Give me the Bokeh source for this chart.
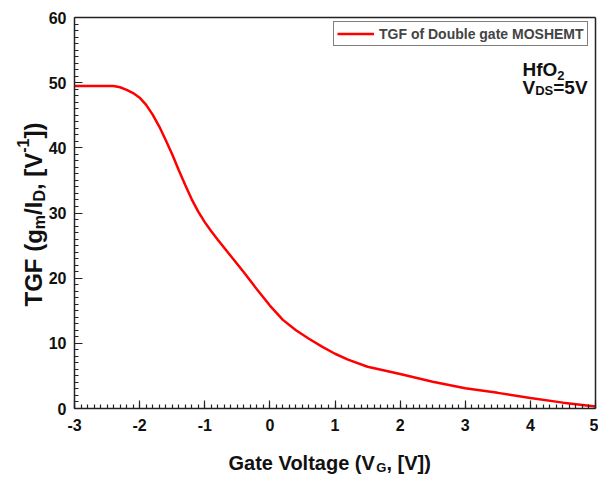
import math
from bokeh.plotting import figure
from bokeh.models import (Label, Range1d, SingleIntervalTicker, FixedTicker, LinearAxis,
                          PrintfTickFormatter)
from bokeh.embed import file_html
from bokeh.resources import INLINE

# ---- data ----
vg = [-3.0, -2.8, -2.6, -2.4, -2.3, -2.2, -2.1, -2.0, -1.9, -1.8, -1.7, -1.6, -1.5,
      -1.4, -1.3, -1.2, -1.1, -1.0, -0.9, -0.8, -0.6, -0.4, -0.2, 0.0, 0.2, 0.4, 0.6,
      0.8, 1.0, 1.2, 1.5, 2.0, 2.5, 3.0, 3.5, 4.0, 4.5, 5.0]
tgf = [49.5, 49.5, 49.5, 49.5, 49.3, 48.9, 48.4, 47.7, 46.6, 45.1, 43.3, 41.2, 39.0,
       36.6, 34.3, 32.1, 30.2, 28.6, 27.2, 25.9, 23.4, 20.9, 18.3, 15.8, 13.6, 12.0, 10.7,
       9.5, 8.4, 7.5, 6.4, 5.3, 4.1, 3.1, 2.4, 1.6, 0.9, 0.3]
series_name = "TGF of Double gate MOSHEMT"
x_min, x_max = -3, 5
y_min, y_max = 0, 60
x_ticks_interval = 1
y_ticks_interval = 10

FONT = "Liberation Sans"
W_FIG, H_FIG = 598, 478
# plot box inside the canvas (px)
BOX_L, BOX_R, BOX_T, BOX_B = 74, 595, 17, 408
sx = (BOX_R - BOX_L) / (x_max - x_min)
sy = (BOX_B - BOX_T) / (y_max - y_min)
xr = Range1d(x_min - BOX_L / sx, x_max + (W_FIG - BOX_R) / sx)
yr = Range1d(y_min - (H_FIG - BOX_B) / sy, y_max + BOX_T / sy)

p = figure(width=W_FIG, height=H_FIG, output_backend="svg", toolbar_location=None,
           x_range=xr, y_range=yr, x_axis_type=None, y_axis_type=None,
           min_border=0, min_border_left=0, min_border_right=0,
           min_border_top=0, min_border_bottom=0)
p.xgrid.visible = False
p.ygrid.visible = False
p.outline_line_color = None
p.background_fill_color = "white"
p.border_fill_color = "white"

xaxis = LinearAxis(fixed_location=y_min, bounds=(x_min, x_max),
                   ticker=SingleIntervalTicker(interval=x_ticks_interval, num_minor_ticks=10),
                   formatter=PrintfTickFormatter(format="%d"))
yaxis = LinearAxis(fixed_location=x_min, bounds=(y_min, y_max),
                   ticker=SingleIntervalTicker(interval=y_ticks_interval, num_minor_ticks=10),
                   formatter=PrintfTickFormatter(format="%d"))
for ax in (xaxis, yaxis):
    ax.axis_line_color = "#222222"
    ax.axis_line_width = 1.5
    ax.major_tick_in = 8
    ax.major_tick_out = 0
    ax.minor_tick_in = 4
    ax.minor_tick_out = 0
    ax.major_tick_line_color = "#222222"
    ax.minor_tick_line_color = "#222222"
    ax.major_tick_line_width = 1.2
    ax.minor_tick_line_width = 1.2
    ax.major_label_text_font = FONT
    ax.major_label_text_font_style = "bold"
    ax.major_label_text_font_size = "16px"
    ax.major_label_text_color = "#111111"
xaxis.major_label_standoff = 10
yaxis.major_label_standoff = 8
p.add_layout(xaxis, "below")
p.add_layout(yaxis, "left")

# frame lines on top and right
top = LinearAxis(fixed_location=y_max, bounds=(x_min, x_max), ticker=FixedTicker(ticks=[]))
right = LinearAxis(fixed_location=x_max, bounds=(y_min, y_max), ticker=FixedTicker(ticks=[]))
for ax in (top, right):
    ax.axis_line_color = "#222222"
    ax.axis_line_width = 1.5
    ax.major_tick_in = 0
    ax.major_tick_out = 0
    ax.minor_tick_in = 0
    ax.minor_tick_out = 0
p.add_layout(top, "above")
p.add_layout(right, "right")

p.line(vg, tgf, line_color="red", line_width=2.5, legend_label=series_name)

lg = p.legend[0]
lg.location = (333, H_FIG - 46)   # bottom-left corner of the legend box
lg.margin = 0
lg.border_line_color = "black"
lg.border_line_width = 1.5
lg.padding = 3
lg.spacing = 0
lg.label_standoff = 5
lg.glyph_width = 37
lg.glyph_height = 17
lg.label_height = 17
lg.label_text_font = FONT
lg.label_text_font_style = "bold"
lg.label_text_font_size = "14px"
lg.background_fill_alpha = 1.0

# Arial/Liberation Sans Bold advance widths (per 1000 em)
W = {' ': 278, '(': 333, ')': 333, ',': 278, '/': 278, '[': 333, ']': 333, '-': 333,
     '=': 584, 'A': 722, 'D': 722, 'E': 667, 'F': 611, 'G': 778, 'H': 722, 'I': 278,
     'M': 833, 'O': 778, 'S': 667, 'T': 611, 'V': 667, 'a': 556, 'e': 556, 'f': 333,
     'g': 611, 'l': 278, 'm': 889, 'o': 611, 't': 333, 'u': 611}
for d in "0123456789":
    W[d] = 556

BASE_FIX = 7   # correction of the rendered baseline (px)


def tw(s, size):
    return sum(W.get(c, 556) for c in s) * size / 1000.0


def pieces(parts, x0, y0, vertical=False):
    """parts: list of (text, size, shift). Offsets in px relative to the plot box's bottom-left."""
    pos = 0.0
    for text, size, shift in parts:
        if vertical:
            xo, yo, ang = x0 + shift - BASE_FIX, y0 + pos, math.pi / 2
        else:
            xo, yo, ang = x0 + pos, y0 - shift + BASE_FIX, 0.0
        p.add_layout(Label(x=x_min, y=y_min, x_offset=xo, y_offset=yo, text=text, angle=ang,
                           text_font=FONT, text_font_style="bold",
                           text_font_size=f"{size}px", text_color="#111111",
                           text_align="left", text_baseline="alphabetic"))
        pos += tw(text, size)


# x axis label: Gate Voltage (V_G, [V])
pieces([("Gate Voltage (V", 20, 0), ("G", 13, 5), (", [V])", 20, 0)], 154, -61)
# y axis label: TGF (g_m/I_D, [V^-1])
pieces([("TGF (g", 24, 0), ("m", 16, 6), ("/I", 24, 0), ("D", 16, 6),
        (", [V", 24, 0), ("-1", 16, -11), ("])", 24, 0)], -34, 102, vertical=True)
# annotations
pieces([("HfO", 19, 0), ("2", 13, 6)], 448, 332)
pieces([("V", 19, 0), ("DS", 13, 3.5), ("=5V", 19, 0)], 448, 314.5)

open("out.html", "w").write(file_html(p, INLINE))
